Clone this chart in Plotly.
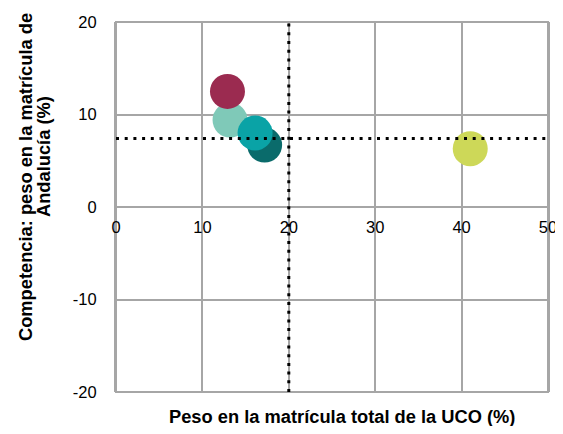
import plotly.graph_objects as go

# Data
peso_uco = [17.2, 13.2, 16.1, 12.9, 41.0]          # x: Peso en la matrícula total de la UCO (%)
peso_andalucia = [6.7, 9.4, 8.0, 12.5, 6.3]        # y: peso en la matrícula de Andalucía (%)
colores = ["#0A6B6B", "#7FC9B8", "#0AA3A6", "#9B2B50", "#CDD858"]
media_x = 20
media_y = 7.4
x_ticks = [0, 10, 20, 30, 40, 50]
y_ticks = [-20, -10, 0, 10, 20]
titulo_x = "Peso en la matrícula total de la UCO (%)"
titulo_y = ["Competencia: peso en la matrícula de", "Andalucía (%)"]

fig = go.Figure()
for xv, yv, c in zip(peso_uco, peso_andalucia, colores):
    fig.add_trace(go.Scatter(
        x=[xv], y=[yv], mode="markers",
        marker=dict(size=35, color=c, line=dict(width=0), opacity=1),
        showlegend=False, hoverinfo="x+y"))

dot = dict(color="black", width=3, dash="3px,5.7px")
fig.add_shape(type="line", x0=media_x, x1=media_x, y0=-20, y1=20, line=dot, layer="above")
fig.add_shape(type="line", x0=0, x1=50, y0=media_y, y1=media_y, line=dot, layer="above")

font = "Liberation Sans, Arial, sans-serif"
grid = "#A6A6A6"
fig.update_layout(
    width=555, height=418,
    margin=dict(l=108, r=15, t=14, b=34),
    plot_bgcolor="white", paper_bgcolor="white",
    font=dict(family=font, size=16.5, color="black"),
    xaxis=dict(range=[0, 50], tickvals=x_ticks, ticktext=[str(v) for v in x_ticks],
               showgrid=True, gridcolor=grid, gridwidth=2, zeroline=False,
               showline=False, anchor="free", position=0.5, ticks="",
               automargin=False, ticklabeloverflow="allow",
               ticklabelstandoff=8, tickfont=dict(size=16.5)),
    yaxis=dict(range=[-20, 20], tickvals=y_ticks, ticktext=[str(v) for v in y_ticks],
               showgrid=True, gridcolor=grid, gridwidth=2, zeroline=False,
               showline=True, linecolor=grid, linewidth=2, mirror=True, ticks="",
               automargin=False, ticklabeloverflow="allow",
               ticklabelstandoff=14, tickfont=dict(size=16.5)),
)
fig.add_shape(type="rect", xref="paper", yref="paper", x0=0, x1=1, y0=0, y1=1,
              line=dict(color=grid, width=2), layer="below")

fig.add_annotation(text="<b>" + titulo_x + "</b>",
                   xref="paper", yref="paper", x=0.522, y=0, yshift=-24,
                   yanchor="middle", showarrow=False, font=dict(size=18.3))
for linea, py, dx in zip(titulo_y, [0.581, 0.635], [-91, -73]):
    fig.add_annotation(text="<b>" + linea + "</b>",
                       xref="paper", yref="paper", x=0, xshift=dx, y=py,
                       textangle=-90, xanchor="center", yanchor="middle",
                       showarrow=False, font=dict(size=18.3))

fig.write_html("out.html")
